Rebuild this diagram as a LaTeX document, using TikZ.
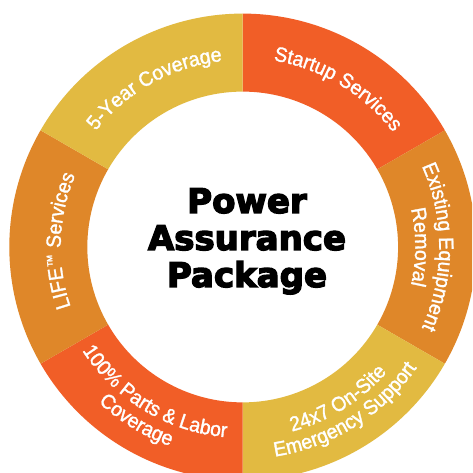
\documentclass[tikz,border=0pt]{standalone}
\usepackage{fontspec}
\newfontfamily\ringlabelfont{Liberation Sans}[FakeBold=1.5, FakeStretch=0.95]
\newfontfamily\ringtitlefont{DejaVu Sans}[BoldFeatures={FakeBold=4}]
\usetikzlibrary{decorations.text}
\definecolor{segred}{HTML}{F15E27}
\definecolor{segorange}{HTML}{DF8729}
\definecolor{segyellow}{HTML}{E2BA41}
\newcommand\ringfont{\ringlabelfont\fontsize{20.5}{24}\selectfont}
\newcommand\ringtm{\fontsize{14}{14}\selectfont\raisebox{4.5pt}{™}}
\tikzset{
  ringlabel/.style={decorate, decoration={text along path, text align=center,
      text color=white, text={|\ringfont|#1}}},
  titletext/.style={font=\ringtitlefont\bfseries\fontsize{34}{37}\selectfont,
      text=black, inner sep=0pt, anchor=base},
}
\begin{document}
\begin{tikzpicture}[x=1pt,y=1pt]
\useasboundingbox (0,0) rectangle (472,473);
\fill[white] (0,0) rectangle (472,473);
\clip (0,0) rectangle (472,473);
\begin{scope}[shift={(242.7,226)}]
  \foreach \a/\b/\c in {30/90/segred, -30/30/segorange, -90/-30/segyellow,
                        -150/-90/segred, 150/210/segorange, 90/150/segyellow}
    \fill[\c] (\a:233.4pt) arc[start angle=\a, end angle=\b, radius=233.4pt]
      -- (\b:155.4pt) arc[start angle=\b, end angle=\a, radius=155.4pt] -- cycle;
  % clockwise arcs: letters upright outward
  \path[ringlabel={Startup Services}] (104:189pt) arc[start angle=104, end angle=14, radius=189pt];
  \path[ringlabel={5{-}Year Coverage}] (164:187pt) arc[start angle=164, end angle=74, radius=187pt];
  \path[ringlabel={LIFE{\ringtm} Services}] (223:182pt) arc[start angle=223, end angle=133, radius=182pt];
  \path[ringlabel={Existing Equipment}] (50:196.5pt) arc[start angle=50, end angle=-50, radius=196.5pt];
  \path[ringlabel={Removal}] (50:172.5pt) arc[start angle=50, end angle=-50, radius=172.5pt];
  % counter-clockwise arcs: letters upright inward
  \path[ringlabel={24x7 On{-}Site}] (-108:191pt) arc[start angle=-108, end angle=-8, radius=191pt];
  \path[ringlabel={Emergency Support}] (-108:212pt) arc[start angle=-108, end angle=-8, radius=212pt];
  \path[ringlabel={100{\%} Parts {\&} Labor}] (189:191pt) arc[start angle=189, end angle=289, radius=191pt];
  \path[ringlabel={Coverage}] (188.5:212pt) arc[start angle=188.5, end angle=288.5, radius=212pt];
\end{scope}
\node[titletext] (t1) at (247,260) {Power};
\node[titletext] (t2) at (247,223) {Assurance};
\node[titletext] (t3) at (247,186) {Package};
\end{tikzpicture}
\end{document}
